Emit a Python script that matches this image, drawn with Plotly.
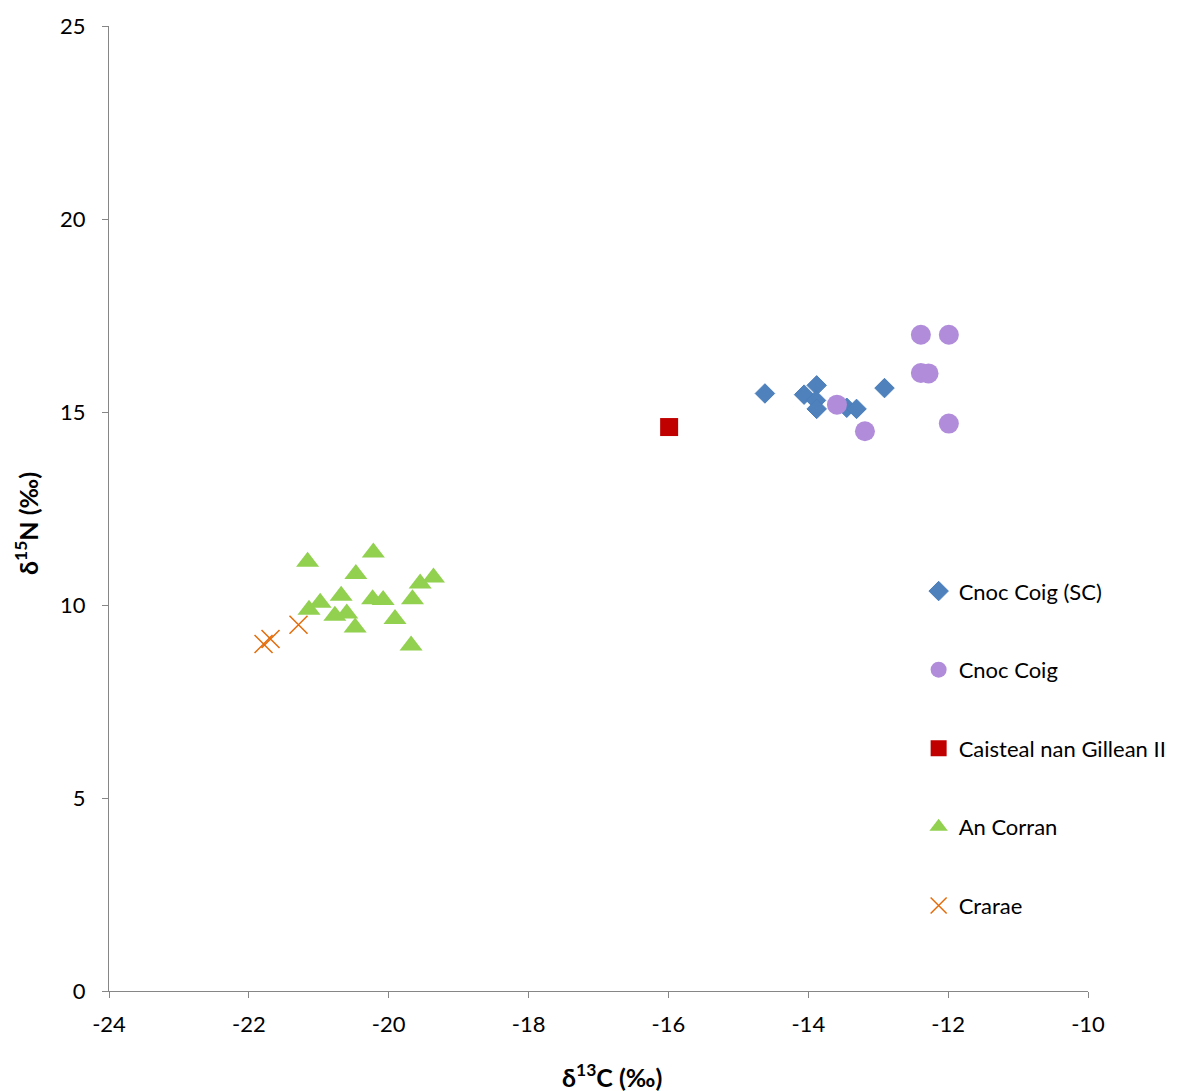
import plotly.graph_objects as go

# Data (δ13C, δ15N)
sc_x = [-14.62, -13.88, -14.06, -13.89, -13.88, -13.45, -13.31, -12.91]
sc_y = [15.48, 15.69, 15.45, 15.30, 15.08, 15.11, 15.08, 15.62]

cc_x = [-12.39, -11.99, -12.39, -12.28, -13.59, -13.19, -11.99]
cc_y = [17.0, 17.0, 16.01, 16.0, 15.19, 14.50, 14.70]

cg_x = [-15.99]
cg_y = [14.61]

ac_x = [-21.16, -20.22, -20.47, -19.55, -19.36, -19.66, -20.98, -21.14,
        -20.68, -20.23, -20.08, -20.77, -20.60, -20.48, -19.91, -19.68]
ac_y = [11.12, 11.36, 10.80, 10.56, 10.71, 10.15, 10.06, 9.88,
        10.24, 10.15, 10.13, 9.72, 9.78, 9.42, 9.64, 8.95]

cr_x = [-21.29, -21.69, -21.79]
cr_y = [9.49, 9.12, 8.99]

x_ticks = [-24, -22, -20, -18, -16, -14, -12, -10]
y_ticks = [0, 5, 10, 15, 20, 25]

FONT = "Lato, 'Open Sans', sans-serif"

fig = go.Figure()
fig.add_trace(go.Scatter(x=sc_x, y=sc_y, mode="markers", name="Cnoc Coig (SC)",
                         legendgroup="a",
                         marker=dict(symbol="diamond", size=15, color="#4F81BD",
                                     line=dict(color="#4A7EBB", width=1))))
fig.add_trace(go.Scatter(x=cc_x, y=cc_y, mode="markers", name="Cnoc Coig",
                         legendgroup="b",
                         marker=dict(symbol="circle", size=20, color="#B08CDB",
                                     line=dict(width=0))))
fig.add_trace(go.Scatter(x=cg_x, y=cg_y, mode="markers", name="Caisteal nan Gillean II",
                         legendgroup="c",
                         marker=dict(symbol="square", size=18, color="#C00000",
                                     line=dict(width=0))))
fig.add_trace(go.Scatter(x=ac_x, y=ac_y, mode="markers", name="An Corran",
                         legendgroup="d",
                         marker=dict(symbol="triangle-up", size=20, color="#92D050",
                                     line=dict(width=0))))
fig.add_trace(go.Scatter(x=cr_x, y=cr_y, mode="markers", name="Crarae",
                         legendgroup="e",
                         marker=dict(symbol="x-thin-open", size=18, color="#E46C0A",
                                     line=dict(color="#E46C0A", width=1.5))))

axis_common = dict(showgrid=False, zeroline=False, showline=True,
                   linecolor="#868686", linewidth=1, ticks="outside",
                   ticklen=6, tickcolor="#868686",
                   tickfont=dict(family=FONT, size=22, color="black"))

fig.update_layout(
    width=1189, height=1091,
    margin=dict(l=109, r=101, t=24, b=100),
    paper_bgcolor="white", plot_bgcolor="white",
    font=dict(family=FONT, color="black"),
    xaxis=dict(range=[-24, -10], tickvals=x_ticks, ticktext=[str(v) for v in x_ticks],
               ticklabelstandoff=8, **axis_common),
    yaxis=dict(range=[0, 25], tickvals=y_ticks, ticktext=[str(v) for v in y_ticks],
               ticklabelstandoff=12, **axis_common),
    legend=dict(x=0.827, y=0.436, xanchor="left", yanchor="top",
                font=dict(family=FONT, size=22, color="black"),
                tracegroupgap=47, itemwidth=30, bgcolor="rgba(0,0,0,0)"),
    showlegend=True,
    annotations=[
        dict(text="<b>δ<sup>13</sup>C (‰)</b>", xref="paper", yref="paper",
             x=(612 - 109) / 979, y=(991 - 1076) / 967, xanchor="center", yanchor="middle",
             showarrow=False, font=dict(family=FONT, size=25, color="black")),
        dict(text="<b>δ<sup>15</sup>N (‰)</b>", xref="paper", yref="paper",
             x=(27 - 109) / 979, y=(991 - 523) / 967, xanchor="center", yanchor="middle",
             textangle=-90, showarrow=False,
             font=dict(family=FONT, size=25, color="black")),
    ],
)

fig.write_html("out.html")
